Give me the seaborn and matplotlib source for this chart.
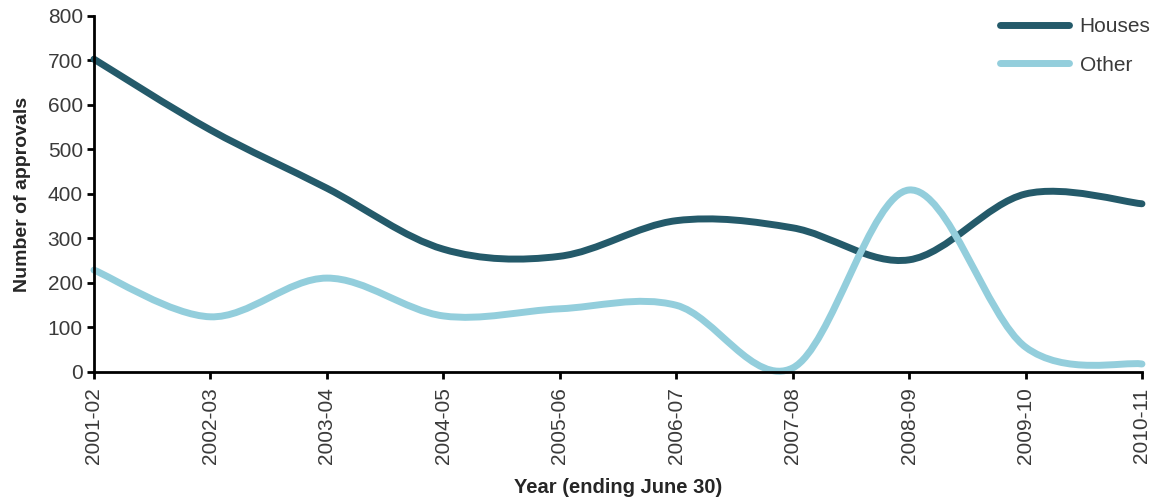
import numpy as np
import matplotlib
matplotlib.use("Agg")
import matplotlib.pyplot as plt
from matplotlib.path import Path
from matplotlib.patches import PathPatch
from matplotlib.lines import Line2D
import seaborn as sns

years = ["2001-02", "2002-03", "2003-04", "2004-05", "2005-06",
         "2006-07", "2007-08", "2008-09", "2009-10", "2010-11"]
houses = [703, 544, 413, 276, 260, 340, 324, 252, 400, 378]
other = [229, 124, 211, 126, 142, 150, 9, 409, 56, 18]

HOUSE_COL = "#245a6a"
OTHER_COL = "#93cedc"

sns.set_theme(style="ticks")
plt.rcParams["font.family"] = ["Liberation Sans", "DejaVu Sans"]


def smooth_path(xs, ys):
    # Excel-style smoothed line: cubic Bezier with Catmull-Rom control points
    pts = np.column_stack([xs, ys]).astype(float)
    n = len(pts)
    verts = [pts[0]]
    codes = [Path.MOVETO]
    for i in range(n - 1):
        p0 = pts[i - 1] if i > 0 else pts[i]
        p1 = pts[i]
        p2 = pts[i + 1]
        p3 = pts[i + 2] if i + 2 < n else pts[i + 1]
        c1 = p1 + (p2 - p0) / 6.0
        c2 = p2 - (p3 - p1) / 6.0
        verts += [c1, c2, p2]
        codes += [Path.CURVE4] * 3
    return Path(verts, codes)


fig = plt.figure(figsize=(11.5, 5.01), dpi=100)
ax = fig.add_axes([0.0817, 0.2575, 0.9113, 0.7106])

x = np.arange(len(years))
for vals, col in [(houses, HOUSE_COL), (other, OTHER_COL)]:
    patch = PathPatch(smooth_path(x, vals), facecolor="none", edgecolor=col,
                      lw=5, capstyle="round", joinstyle="round", clip_on=False)
    ax.add_patch(patch)

ax.set_xlim(0, len(years) - 1)
ax.set_ylim(0, 800)
ax.set_yticks(range(0, 801, 100))
ax.set_xticks(x)
ax.set_xticklabels(years, rotation=90)
ax.tick_params(axis="both", labelsize=15, labelcolor="#3a3a3a", width=2,
               length=5, color="black", pad=3)
ax.tick_params(axis="x", pad=6)
for s in ["left", "bottom"]:
    ax.spines[s].set_linewidth(2)
    ax.spines[s].set_color("black")
sns.despine(ax=ax)

ax.set_ylabel("Number of approvals", fontsize=14, fontweight="bold", labelpad=12)
ax.set_xlabel("Year (ending June 30)", fontsize=14.5, fontweight="bold", labelpad=10)

handles = [Line2D([], [], color=HOUSE_COL, lw=5, solid_capstyle="round"),
           Line2D([], [], color=OTHER_COL, lw=5, solid_capstyle="round")]
leg = ax.legend(handles, ["Houses", "Other"], loc="upper right", frameon=False,
                fontsize=15, handlelength=3.3, handletextpad=0.5,
                labelspacing=0.95, bbox_to_anchor=(1.026, 1.05))
for t in leg.get_texts():
    t.set_color("#3a3a3a")

fig.savefig("out.png", dpi=100)
plt.close(fig)
